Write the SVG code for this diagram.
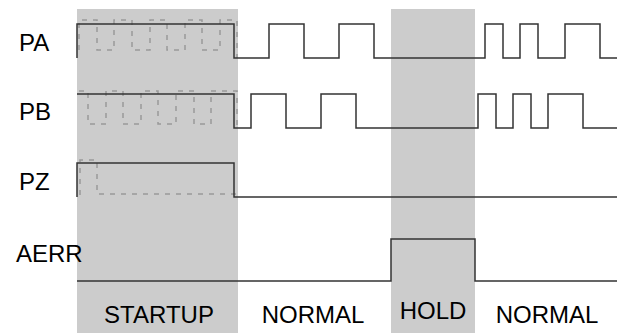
<svg xmlns="http://www.w3.org/2000/svg" width="617" height="333" viewBox="0 0 617 333">
<style>
.bg{fill:#cccccc}
.sig{fill:none;stroke:#333;stroke-width:1.5}
.dash{fill:none;stroke:#999;stroke-width:1.5;stroke-dasharray:5,6}
.lbl{font-family:"Liberation Sans",Arial,sans-serif;font-size:24px;fill:#000}
.mid{text-anchor:middle}
</style>
<rect width="617" height="333" fill="#fff"/>
<g id="phase-startup"><rect class="bg" x="77" y="9" width="161" height="324"/></g>
<g id="phase-hold"><rect class="bg" x="391" y="9" width="84" height="324"/></g>
<g id="labels">
<text class="lbl" x="19" y="51">PA</text>
<text class="lbl" x="19" y="120">PB</text>
<text class="lbl" x="19" y="190">PZ</text>
<text class="lbl" x="16" y="262">AERR</text>
<text class="lbl mid" x="159" y="323">STARTUP</text>
<text class="lbl mid" x="313" y="323">NORMAL</text>
<text class="lbl mid" x="433" y="319">HOLD</text>
<text class="lbl mid" x="547" y="323">NORMAL</text>
</g>
<g id="connectors">
<path id="PA-startup" class="dash" d="M79,50 V20 H97 V50 H114 V20 H132 V50 H150 V20 H167 V50 H185 V20 H202 V50 H220 V20 H237 V58"/>
<path id="PB-startup" class="dash" d="M79,91 H88 V124 H106 V91 H123 V124 H141 V91 H158 V124 H176 V91 H194 V124 H211 V91 H237 V128"/>
<path id="PZ-startup" class="dash" d="M80,195 V160 H97 V194 H237"/>
<path id="PA" class="sig" d="M77,58 V24 H234 V58 H269 V24 H304 V58 H339 V24 H374 V58 H485 V24 H503 V58 H520 V24 H538 V58 H565 V24 H600 V58 H617"/>
<path id="PB" class="sig" d="M77,94 H234 V128 H251 V94 H286 V128 H321 V94 H356 V128 H478 V94 H496 V128 H513 V94 H531 V128 H548 V94 H583 V128 H617"/>
<path id="PZ" class="sig" d="M77,197 V163 H234 V197 H617"/>
<path id="AERR" class="sig" d="M77,281 H391 V239 H475 V281 H617"/>
</g>
</svg>
